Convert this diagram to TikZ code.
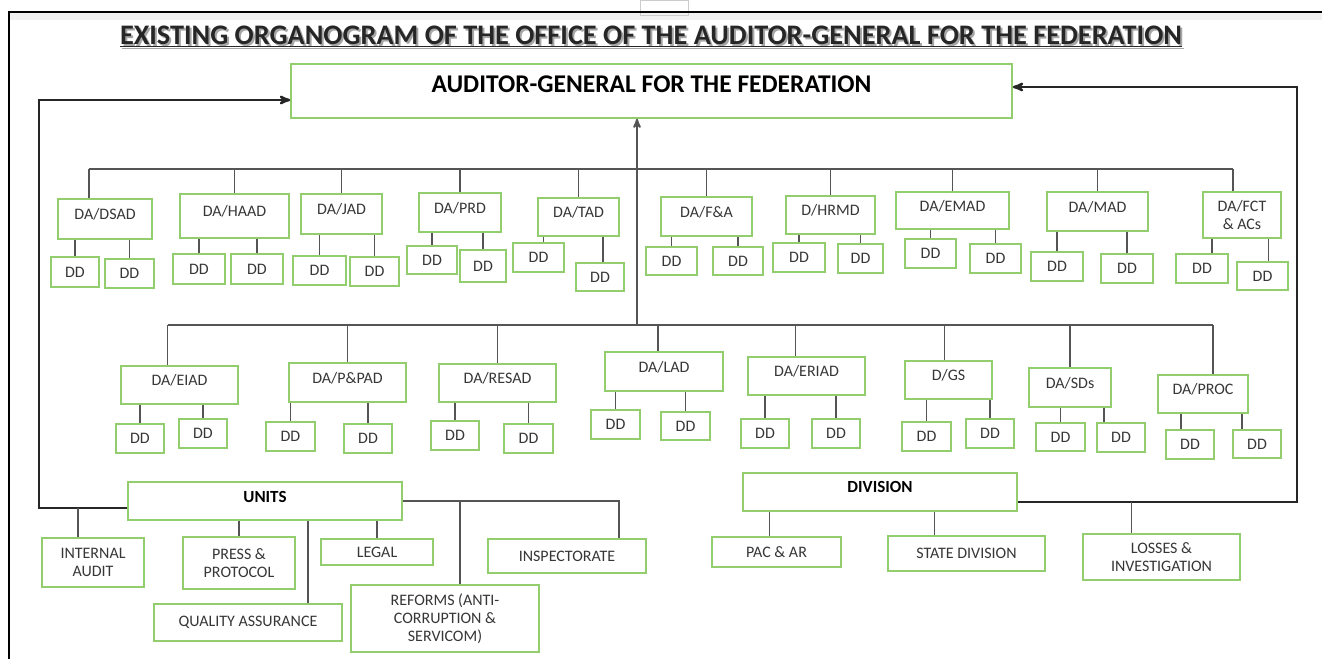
\documentclass[tikz,border=0pt]{standalone}
\usepackage{fontspec}
\setmainfont{Carlito}
\usepackage{tikz}
\usetikzlibrary{arrows}
\definecolor{boxgreen}{RGB}{146,205,110}
\definecolor{linegray}{RGB}{85,85,85}
\definecolor{textgray}{RGB}{55,55,55}
\newcommand{\organotitle}{EXISTING ORGANOGRAM OF THE OFFICE OF THE AUDITOR-GENERAL FOR THE FEDERATION}

\begin{document}
\begin{tikzpicture}[x=1pt,y=-1pt,>=stealth',
  box/.style={draw=boxgreen,line width=1.5pt,fill=white,text=textgray,align=center,
    inner sep=1pt,font=\fontsize{16}{18}\selectfont},
  da/.style={box,text depth=10pt},
  head/.style={box,text=black,font=\fontsize{17}{19}\selectfont\bfseries},
  sz/.style 2 args={minimum width=#1,minimum height=#2},
  titlefont/.style={font=\fontsize{28.3}{31}\selectfont\bfseries},
  stem/.style={draw=linegray,line width=1.3pt},
  bus/.style={draw=linegray,line width=2.6pt},
  loopline/.style={draw=black!85,line width=2.4pt}]
\useasboundingbox (0,0) rectangle (1322,659);
% window frame
\fill[black!6] (9,13) rectangle (1322,20);
\draw[black!20] (640,0) rectangle (688,15);
\draw[line width=1.4pt] (1322,12) -- (9,12) -- (9,659);

% title
\node[titlefont,text=black!35] (title-shadow) at (653,38) {\underline{\organotitle}};
\node[titlefont,text=black!85] (title) at (651,36) {\underline{\organotitle}};

% head
\node[box,sz={721}{54},text=black,text depth=14pt,font=\fontsize{25.5}{27}\selectfont\bfseries]
  (ag) at (651.5,91) {AUDITOR-GENERAL FOR THE FEDERATION};

% first row of departments
\node[da,sz={94}{40}]  (dsad) at (105,219)    {DA/DSAD};
\node[da,sz={109}{44}] (haad) at (234.5,216)  {DA/HAAD};
\node[da,sz={81}{40}]  (jad)  at (341.5,214)  {DA/JAD};
\node[da,sz={82}{39}]  (prd)  at (460,212.5)  {DA/PRD};
\node[da,sz={81}{38}]  (tad)  at (578.5,217)  {DA/TAD};
\node[da,sz={91}{39}]  (fa)   at (706.5,216.5){DA/F\&A};
\node[da,sz={89}{38}]  (hrmd) at (830.5,215)  {D/HRMD};
\node[da,sz={113}{37}] (emad) at (952.5,210.5){DA/EMAD};
\node[da,sz={101}{39}] (mad)  at (1097.5,211.5){DA/MAD};
\node[box,sz={78}{46}] (fct)  at (1242,215)   {DA/FCT\\\& ACs};

\node[box,sz={48}{30}] (dsad1) at (75,272)     {DD};
\node[box,sz={49}{29}] (dsad2) at (129.5,273.5){DD};
\node[box,sz={52}{30}] (haad1) at (199,269)    {DD};
\node[box,sz={52}{30}] (haad2) at (257,269)    {DD};
\node[box,sz={53}{29}] (jad1)  at (319.5,270.5){DD};
\node[box,sz={49}{29}] (jad2)  at (374.5,271.5){DD};
\node[box,sz={50}{28}] (prd1)  at (432,260)    {DD};
\node[box,sz={46}{32}] (prd2)  at (483,266)    {DD};
\node[box,sz={51}{29}] (tad1)  at (538.5,257.5){DD};
\node[box,sz={48}{28}] (tad2)  at (600,277)    {DD};
\node[box,sz={51}{28}] (fa1)   at (671.5,261)  {DD};
\node[box,sz={50}{28}] (fa2)   at (738,261)    {DD};
\node[box,sz={52}{29}] (hrmd1) at (799,257.5)  {DD};
\node[box,sz={45}{29}] (hrmd2) at (860.5,258.5){DD};
\node[box,sz={51}{29}] (emad1) at (930.5,253.5){DD};
\node[box,sz={51}{29}] (emad2) at (995.5,258.5){DD};
\node[box,sz={52}{29}] (mad1)  at (1057,266.5) {DD};
\node[box,sz={52}{29}] (mad2)  at (1127,268.5) {DD};
\node[box,sz={52}{29}] (fct1)  at (1202,268.5) {DD};
\node[box,sz={51}{28}] (fct2)  at (1262.5,276) {DD};

% second row of departments
\node[da,sz={117}{38}] (eiad)  at (179.5,385)  {DA/EIAD};
\node[da,sz={117}{39}] (ppad)  at (347.5,382.5){DA/P\&PAD};
\node[da,sz={117}{38}] (resad) at (497.5,383)  {DA/RESAD};
\node[da,sz={118}{39}] (lad)   at (664,371.5)  {DA/LAD};
\node[da,sz={117}{38}] (eriad) at (806.5,376)  {DA/ERIAD};
\node[da,sz={87}{38}]  (gs)    at (948.5,380)  {D/GS};
\node[da,sz={82}{39}]  (sds)   at (1070,387.5) {DA/SDs};
\node[da,sz={90}{38}]  (proc)  at (1203,394)   {DA/PROC};

\node[box,sz={48}{29}] (eiad1)  at (140,438.5)  {DD};
\node[box,sz={48}{29}] (eiad2)  at (203,433.5)  {DD};
\node[box,sz={49}{29}] (ppad1)  at (290.5,436.5){DD};
\node[box,sz={48}{29}] (ppad2)  at (368,438.5)  {DD};
\node[box,sz={48}{29}] (resad1) at (455,435.5)  {DD};
\node[box,sz={49}{29}] (resad2) at (528.5,438.5){DD};
\node[box,sz={49}{29}] (lad1)   at (615.5,424.5){DD};
\node[box,sz={49}{28}] (lad2)   at (685.5,426)  {DD};
\node[box,sz={48}{29}] (eriad1) at (765,433.5)  {DD};
\node[box,sz={48}{29}] (eriad2) at (836,433.5)  {DD};
\node[box,sz={49}{29}] (gs1)    at (926.5,436.5){DD};
\node[box,sz={48}{29}] (gs2)    at (990,433.5)  {DD};
\node[box,sz={49}{28}] (sds1)   at (1060.5,437) {DD};
\node[box,sz={48}{29}] (sds2)   at (1121,437.5) {DD};
\node[box,sz={48}{29}] (proc1)  at (1190,444.5) {DD};
\node[box,sz={48}{28}] (proc2)  at (1257,444)   {DD};

% units and division
\node[head,sz={274}{38},text depth=8pt]  (units)    at (265,501) {UNITS};
\node[head,sz={274}{38},text depth=10pt] (division) at (880,492) {DIVISION};

\node[box,sz={102}{49}] (internal) at (93,562.5)   {INTERNAL\\AUDIT};
\node[box,sz={112}{52}] (press)    at (239,563)    {PRESS \&\\PROTOCOL};
\node[box,sz={112}{26}] (legal)    at (377,552)    {LEGAL};
\node[box,sz={158}{34}] (insp)     at (567,556)    {INSPECTORATE};
\node[box,sz={188}{37}] (qa)       at (248,622.5)  {QUALITY ASSURANCE};
\node[box,sz={188}{67}] (reforms)  at (445,618.5)  {REFORMS (ANTI-\\CORRUPTION \&\\SERVICOM)};
\node[box,sz={129}{30}] (pac)      at (776.5,552)  {PAC \& AR};
\node[box,sz={157}{35}] (state)    at (966.5,553.5){STATE DIVISION};
\node[box,sz={157}{46}] (losses)   at (1161.5,557) {LOSSES \&\\INVESTIGATION};

% buses
\coordinate (bus1) at (637,169);
\coordinate (bus2) at (637,325);
\draw[bus] ([xshift=-16pt]dsad.north |- bus1) -- ([xshift=-9pt]fct.north |- bus1);
\draw[bus] ([xshift=-12pt]eiad.north |- bus2) -- ([xshift=10pt]proc.north |- bus2);
\draw[linegray,line width=2pt,->] (bus2) -- (bus2 |- ag.south);

\path[stem]
  ([xshift=-16pt]dsad.north |- bus1) edge ([xshift=-16pt]dsad.north)
  (haad |- bus1) edge (haad)
  (jad |- bus1)  edge (jad)
  (prd |- bus1)  edge (prd)
  (tad |- bus1)  edge (tad)
  (fa |- bus1)   edge (fa)
  (hrmd |- bus1) edge (hrmd)
  (emad |- bus1) edge (emad)
  (mad |- bus1)  edge (mad)
  ([xshift=-9pt]fct.north |- bus1) edge ([xshift=-9pt]fct.north)
  ([xshift=-12pt]eiad.north |- bus2) edge ([xshift=-12pt]eiad.north)
  (ppad |- bus2)  edge (ppad)
  (resad |- bus2) edge (resad)
  ([xshift=-6pt]lad.north |- bus2) edge ([xshift=-6pt]lad.north)
  ([xshift=-11pt]eriad.north |- bus2) edge ([xshift=-11pt]eriad.north)
  ([xshift=-4pt]gs.north |- bus2) edge ([xshift=-4pt]gs.north)
  (sds |- bus2)   edge (sds)
  ([xshift=10pt]proc.north |- bus2) edge ([xshift=10pt]proc.north);

\path[stem]
  (dsad1 |- dsad.south) edge (dsad1)   (dsad2 |- dsad.south) edge (dsad2)
  (haad1 |- haad.south) edge (haad1)   (haad2 |- haad.south) edge (haad2)
  (jad1 |- jad.south)   edge (jad1)    (jad2 |- jad.south)   edge (jad2)
  (prd1 |- prd.south)   edge (prd1)    (prd2 |- prd.south)   edge (prd2)
  ([xshift=5pt]tad1.north |- tad.south) edge ([xshift=5pt]tad1.north)
  ([xshift=3pt]tad2.north |- tad.south) edge ([xshift=3pt]tad2.north)
  (fa1 |- fa.south)     edge (fa1)     (fa2 |- fa.south)     edge (fa2)
  (hrmd1 |- hrmd.south) edge (hrmd1)   (hrmd2 |- hrmd.south) edge (hrmd2)
  (emad1 |- emad.south) edge (emad1)   (emad2 |- emad.south) edge (emad2)
  (mad1 |- mad.south)   edge (mad1)    (mad2 |- mad.south)   edge (mad2)
  ([xshift=10pt]fct1.north |- fct.south) edge ([xshift=10pt]fct1.north)
  ([xshift=6pt]fct2.north |- fct.south)  edge ([xshift=6pt]fct2.north)
  (eiad1 |- eiad.south)   edge (eiad1)   (eiad2 |- eiad.south)   edge (eiad2)
  (ppad1 |- ppad.south)   edge (ppad1)   (ppad2 |- ppad.south)   edge (ppad2)
  (resad1 |- resad.south) edge (resad1)  (resad2 |- resad.south) edge (resad2)
  (lad1 |- lad.south)     edge (lad1)    (lad2 |- lad.south)     edge (lad2)
  (eriad1 |- eriad.south) edge (eriad1)  (eriad2 |- eriad.south) edge (eriad2)
  (gs1 |- gs.south)       edge (gs1)     (gs2 |- gs.south)       edge (gs2)
  (sds1 |- sds.south)     edge (sds1)
  ([xshift=-17pt]sds2.north |- sds.south) edge ([xshift=-17pt]sds2.north)
  ([xshift=-9pt]proc1.north |- proc.south)  edge ([xshift=-9pt]proc1.north)
  ([xshift=-15pt]proc2.north |- proc.south) edge ([xshift=-15pt]proc2.north);

% loops back to the auditor-general
\coordinate (unitsbus) at ([yshift=-7pt]units.west);
\coordinate (leftloop) at (39,100);
\draw[loopline,->] (unitsbus) -| (leftloop) -- (leftloop -| ag.west);
\coordinate (divbus) at ([yshift=-10pt]division.east);
\coordinate (rightloop) at (1297,87);
\draw[loopline,->] (divbus) -| (rightloop) -- (rightloop -| ag.east);

% units
\draw[bus] (units.east) -| ([xshift=52pt]insp.north);
\path[stem]
  ([xshift=-15pt]internal.north |- unitsbus) edge ([xshift=-15pt]internal.north)
  (press |- units.south) edge (press)
  (legal |- units.south) edge (legal)
  ([xshift=60pt]qa.north |- units.south) edge ([xshift=60pt]qa.north)
  ([xshift=15pt]reforms.north |- units.east) edge ([xshift=15pt]reforms.north);

% division
\path[stem]
  ([xshift=-7pt]pac.north |- division.south) edge ([xshift=-7pt]pac.north)
  ([xshift=-32pt]state.north |- division.south) edge ([xshift=-32pt]state.north)
  ([xshift=-30pt]losses.north |- divbus) edge ([xshift=-30pt]losses.north);
\end{tikzpicture}
\end{document}
